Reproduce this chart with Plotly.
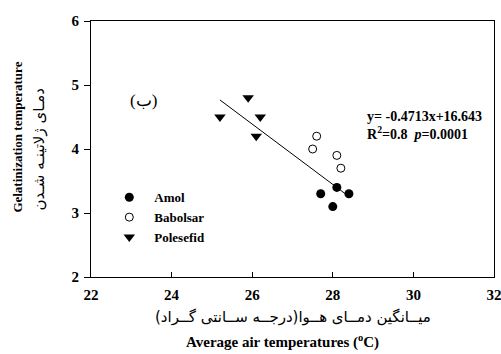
import plotly.graph_objects as go

# Data
amol_x = [28.1, 27.7, 28.4, 28.0]
amol_y = [3.4, 3.3, 3.3, 3.1]
babolsar_x = [27.6, 27.5, 28.1, 28.2]
babolsar_y = [4.2, 4.0, 3.9, 3.7]
polesefid_x = [25.9, 25.2, 26.2, 26.1]
polesefid_y = [4.8, 4.5, 4.5, 4.2]
slope = -0.4713
intercept = 16.643
fit_x = [25.2, 28.4]
fit_y = [slope * v + intercept for v in fit_x]

x_ticks = [22, 24, 26, 28, 30, 32]
y_ticks = [2, 3, 4, 5, 6]

FONT = "Liberation Serif"
FA = "DejaVu Sans"

fig = go.Figure()
fig.add_trace(go.Scatter(x=fit_x, y=fit_y, mode="lines", line=dict(color="black", width=1),
                         showlegend=False, hoverinfo="skip"))
fig.add_trace(go.Scatter(x=amol_x, y=amol_y, mode="markers", name="Amol",
                         marker=dict(symbol="circle", size=9, color="black")))
fig.add_trace(go.Scatter(x=babolsar_x, y=babolsar_y, mode="markers", name="Babolsar",
                         marker=dict(symbol="circle-open", size=8, color="black", line=dict(width=1))))
fig.add_trace(go.Scatter(x=polesefid_x, y=polesefid_y, mode="markers", name="Polesefid",
                         marker=dict(symbol="triangle-down", size=10, color="black")))

bold = dict(family=FONT, color="black", weight="bold")

fig.update_layout(
    width=501, height=354,
    margin=dict(l=91, r=7, t=21, b=77),
    paper_bgcolor="white", plot_bgcolor="white",
    font=dict(family=FONT, size=13, color="black"),
    showlegend=True,
    legend=dict(x=0.033, y=0.37, xanchor="left", yanchor="top",
                bgcolor="rgba(0,0,0,0)", font=dict(size=13, **bold),
                itemwidth=40, tracegroupgap=0),
    xaxis=dict(range=[22, 32], tickvals=x_ticks, ticktext=[str(v) for v in x_ticks],
               showgrid=False, zeroline=False, showline=True, linecolor="black", linewidth=1,
               mirror=True, ticks="inside", ticklen=5, tickcolor="black", automargin=False,
               ticklabelstandoff=4, ticklabeloverflow="allow",
               tickfont=dict(size=15, **bold)),
    yaxis=dict(range=[2, 6], tickvals=y_ticks, ticktext=[str(v) for v in y_ticks],
               showgrid=False, zeroline=False, showline=True, linecolor="black", linewidth=1,
               mirror=True, ticks="outside", ticklen=6, tickcolor="black", automargin=False,
               ticklabelstandoff=2, ticklabeloverflow="allow",
               tickfont=dict(size=15, **bold)),
)

annotations = [
    dict(text="Gelatinization temperature", xref="paper", yref="paper",
         x=-0.182, y=0.547, textangle=-90, showarrow=False,
         font=dict(size=13, **bold), xanchor="center", yanchor="middle"),
    dict(text="دمـای ژلاتینـه شـدن", xref="paper", yref="paper",
         x=-0.128, y=0.5, textangle=-90, showarrow=False,
         font=dict(family=FA, size=15, color="black"), xanchor="center", yanchor="middle"),
    dict(text="میــانگین دمــای هــوا(درجــه ســانتی گــراد)", xref="paper", yref="paper",
         x=0.5, y=-0.157, showarrow=False,
         font=dict(family=FA, size=15, color="black"), xanchor="center", yanchor="middle"),
    dict(text="Average air temperatures (<sup>o</sup>C)", xref="paper", yref="paper",
         x=0.475, y=-0.25, showarrow=False,
         font=dict(size=15, **bold), xanchor="center", yanchor="middle"),
    dict(text="(ب)", xref="paper", yref="paper",
         x=0.13, y=0.69, showarrow=False,
         font=dict(family=FONT, size=17, color="black"), xanchor="center", yanchor="middle"),
    dict(text="y= -0.4713x+16.643<br>R<sup>2</sup>=0.8  <i>p</i>=0.0001",
         xref="paper", yref="paper", x=0.68, y=0.59, showarrow=False, align="left",
         font=dict(size=14, **bold), xanchor="left", yanchor="middle"),
]
fig.update_layout(annotations=annotations)

fig.write_html("out.html")
